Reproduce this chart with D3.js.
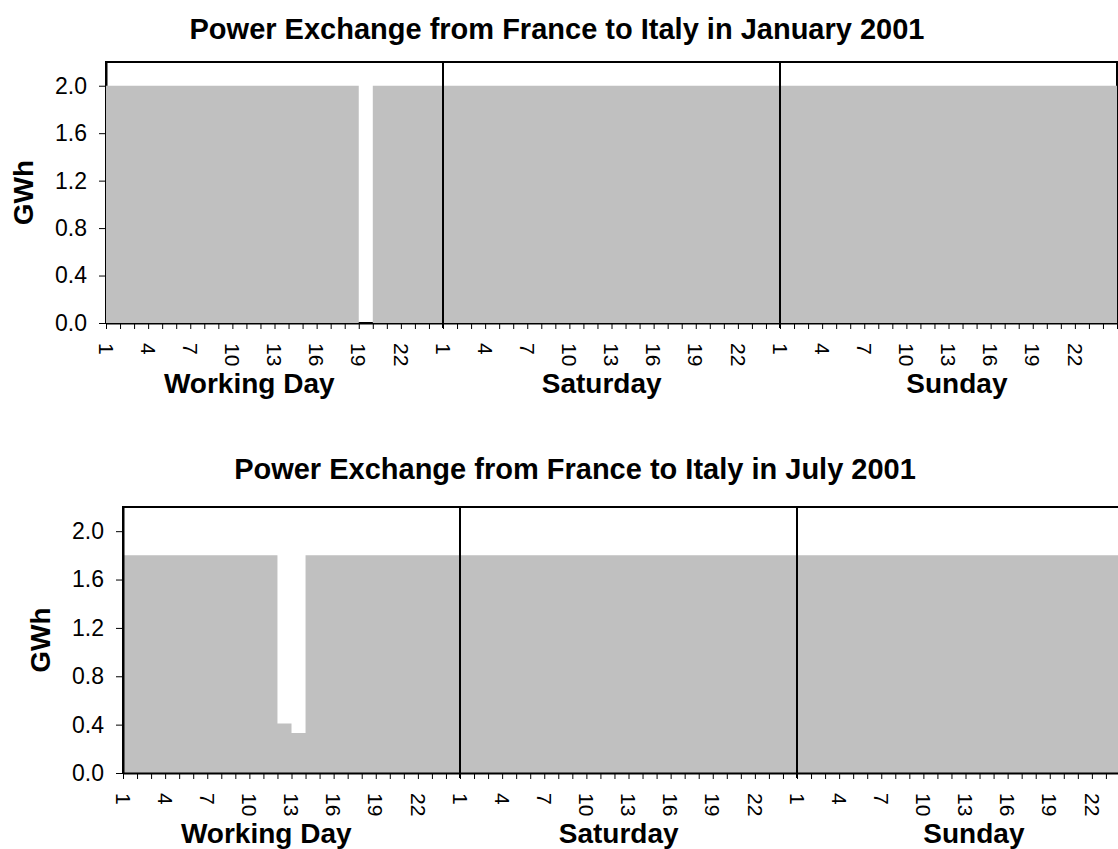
<!DOCTYPE html>
<html>
<head>
<meta charset="utf-8">
<script src="https://cdn.jsdelivr.net/npm/d3@7"></script>
<style>
   body { margin: 0; background: #fff; }
   text { font-family: Arial, "Liberation Sans", sans-serif; fill: #000; }
</style>
</head>
<body>
<div class="chart"></div>
<script>
// categories
const dayNames = ["Working Day", "Saturday", "Sunday"];
const hourLabels = ["1", "4", "7", "10", "13", "16", "19", "22"];
const yTicks = [0.0, 0.4, 0.8, 1.2, 1.6, 2.0];

// hourly values (GWh), hours 1..24 of each day type
const janWorking = [2.0, 2.0, 2.0, 2.0, 2.0, 2.0, 2.0, 2.0, 2.0, 2.0, 2.0, 2.0,
   2.0, 2.0, 2.0, 2.0, 2.0, 2.0, 0.0, 2.0, 2.0, 2.0, 2.0, 2.0];
const janSaturday = [2.0, 2.0, 2.0, 2.0, 2.0, 2.0, 2.0, 2.0, 2.0, 2.0, 2.0, 2.0,
   2.0, 2.0, 2.0, 2.0, 2.0, 2.0, 2.0, 2.0, 2.0, 2.0, 2.0, 2.0];
const janSunday = [2.0, 2.0, 2.0, 2.0, 2.0, 2.0, 2.0, 2.0, 2.0, 2.0, 2.0, 2.0,
   2.0, 2.0, 2.0, 2.0, 2.0, 2.0, 2.0, 2.0, 2.0, 2.0, 2.0, 2.0];
const julWorking = [1.8, 1.8, 1.8, 1.8, 1.8, 1.8, 1.8, 1.8, 1.8, 1.8, 1.8, 0.41,
   0.33, 1.8, 1.8, 1.8, 1.8, 1.8, 1.8, 1.8, 1.8, 1.8, 1.8, 1.8];
const julSaturday = [1.8, 1.8, 1.8, 1.8, 1.8, 1.8, 1.8, 1.8, 1.8, 1.8, 1.8, 1.8,
   1.8, 1.8, 1.8, 1.8, 1.8, 1.8, 1.8, 1.8, 1.8, 1.8, 1.8, 1.8];
const julSunday = [1.8, 1.8, 1.8, 1.8, 1.8, 1.8, 1.8, 1.8, 1.8, 1.8, 1.8, 1.8,
   1.8, 1.8, 1.8, 1.8, 1.8, 1.8, 1.8, 1.8, 1.8, 1.8, 1.8, 1.8];

// setup page
const width = 1118;
const height = 849;
const svg = d3
   .select(".chart")
   .append("svg")
   .attr("width", width)
   .attr("height", height);

// where the day names sit, in hour slots from the left edge
const dayLabelSlot = [10.2, 35.3, 60.6];

const panels = [
   {
      title: "Power Exchange from France to Italy in January 2001",
      titleX: 557, titleY: 39,
      left: 106, right: 1117, top: 62, bottom: 323,
      gwhX: 33,
      axesOver: false,
      values: [janWorking, janSaturday, janSunday]
   },
   {
      title: "Power Exchange from France to Italy in July 2001",
      titleX: 575, titleY: 479,
      left: 123, right: 1134, top: 507, bottom: 773,
      gwhX: 50,
      axesOver: true,
      values: [julWorking, julSaturday, julSunday]
   }
];

panels.forEach((p) => {
   const values = p.values.flat();
   const nSlots = values.length;
   const slotsPerDay = p.values[0].length;

   const x = d3.scaleLinear().domain([0, nSlots]).range([p.left, p.right]);
   const y = d3.scaleLinear().domain([0, 2.2]).range([p.bottom, p.top]);

   const g = svg.append("g");

   // title
   g.append("text")
      .attr("x", p.titleX)
      .attr("y", p.titleY)
      .attr("text-anchor", "middle")
      .attr("font-weight", "bold")
      .attr("font-size", 29)
      .text(p.title);

   // plot frame
   g.append("rect")
      .attr("x", x(0))
      .attr("y", y(2.2))
      .attr("width", x(nSlots) - x(0))
      .attr("height", y(0) - y(2.2))
      .attr("fill", "none")
      .attr("stroke", "#000")
      .attr("stroke-width", 2);

   const drawAxes = () => {
      const yAxis = d3
         .axisLeft(y)
         .tickValues(yTicks)
         .tickSize(7)
         .tickSizeOuter(0)
         .tickPadding(12)
         .tickFormat(d3.format(".1f"));
      const yg = g.append("g")
         .attr("transform", `translate(${x(0)}, 0)`)
         .call(yAxis);
      yg.select(".domain").attr("stroke-width", 2);
      yg.selectAll("text")
         .attr("font-size", 23)
         .attr("font-family", "Arial, 'Liberation Sans', sans-serif");

      // one tick per hour boundary
      const xAxis = d3
         .axisBottom(x)
         .tickValues(d3.range(0, nSlots + 1))
         .tickSize(6)
         .tickSizeOuter(0)
         .tickFormat("");
      const xg = g.append("g")
         .attr("transform", `translate(0, ${y(0)})`)
         .call(xAxis);
      xg.select(".domain").attr("stroke-width", 2);
   };

   if (!p.axesOver) drawAxes();

   // stepped area, one slot per hour
   const pts = values.map((v, i) => ({ i, v }));
   pts.push({ i: nSlots, v: values[nSlots - 1] });
   const area = d3
      .area()
      .curve(d3.curveStepAfter)
      .x((d) => x(d.i))
      .y0(y(0))
      .y1((d) => y(d.v));
   g.append("path")
      .datum(pts)
      .attr("d", area)
      .attr("fill", "#c0c0c0");

   if (p.axesOver) drawAxes();

   // hour labels, rotated
   const labelIdx = [];
   const labelText = [];
   p.values.forEach((day, di) => {
      hourLabels.forEach((h) => {
         labelIdx.push(di * slotsPerDay + (+h - 1));
         labelText.push(h);
      });
   });
   g.selectAll(".hour-label")
      .data(labelIdx)
      .enter()
      .append("text")
      .attr("class", "hour-label")
      .attr("transform", (d) => `translate(${x(d)}, ${y(0) + 20}) rotate(90)`)
      .attr("dy", "0.35em")
      .attr("text-anchor", "start")
      .attr("font-size", 21)
      .text((d, i) => labelText[i]);

   // day separators
   g.selectAll(".sep")
      .data(d3.range(1, p.values.length))
      .enter()
      .append("line")
      .attr("class", "sep")
      .attr("x1", (d) => x(d * slotsPerDay))
      .attr("x2", (d) => x(d * slotsPerDay))
      .attr("y1", y(2.2))
      .attr("y2", y(0) + 5)
      .attr("stroke", "#000")
      .attr("stroke-width", 2);

   // day names
   g.selectAll(".day-name")
      .data(dayNames)
      .enter()
      .append("text")
      .attr("class", "day-name")
      .attr("x", (d, i) => x(dayLabelSlot[i]))
      .attr("y", y(0) + 70)
      .attr("text-anchor", "middle")
      .attr("font-weight", "bold")
      .attr("font-size", 28)
      .text((d) => d);

   // y title
   g.append("text")
      .attr("transform", `translate(${p.gwhX}, ${(y(0) + y(2.2)) / 2}) rotate(-90)`)
      .attr("text-anchor", "middle")
      .attr("font-weight", "bold")
      .attr("font-size", 28)
      .text("GWh");
});
</script>
</body>
</html>
